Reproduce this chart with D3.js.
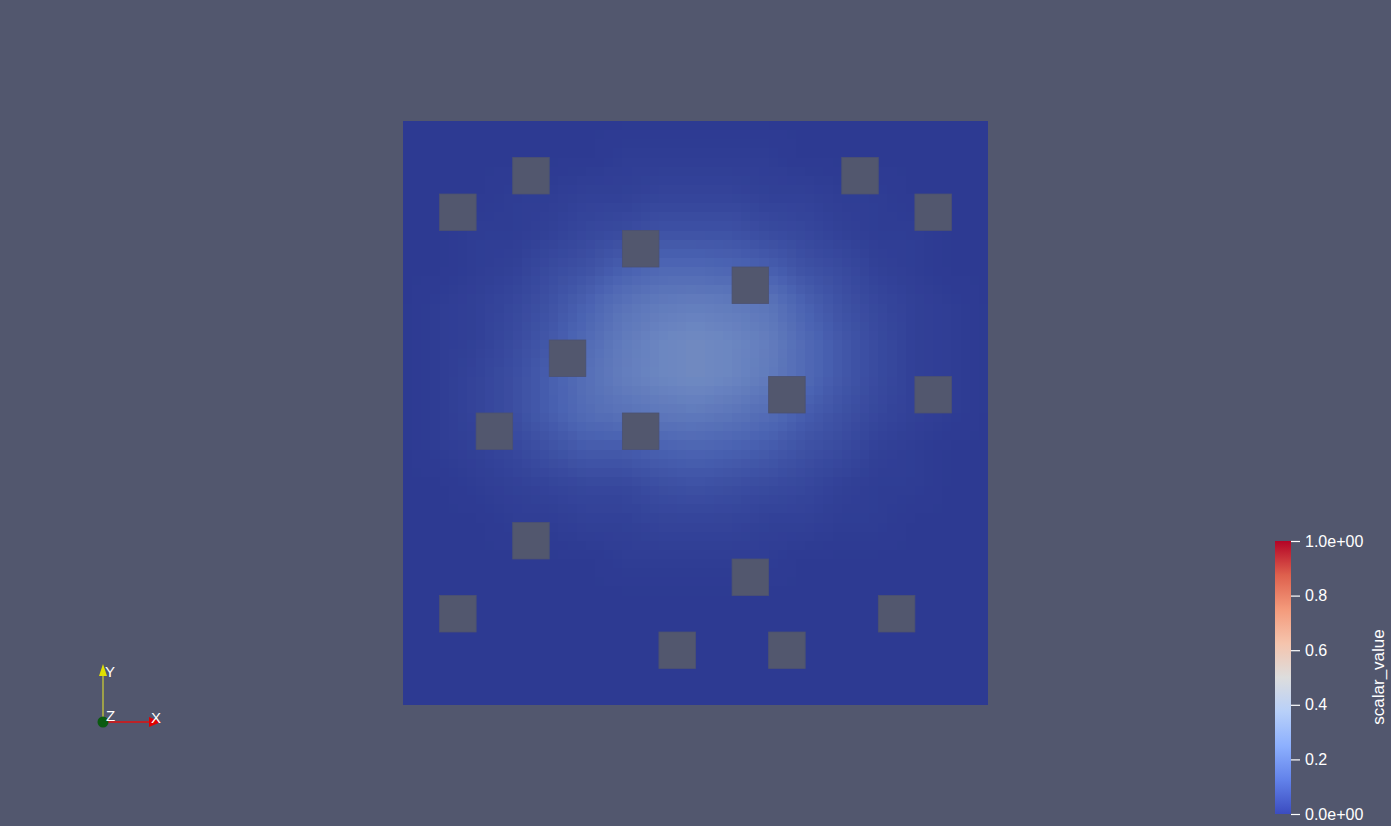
<!DOCTYPE html>
<html><head><meta charset="utf-8">
<script src="https://cdn.jsdelivr.net/npm/d3@7"></script>
<style>html,body{margin:0;padding:0;background:#52576e;overflow:hidden}svg{display:block}</style>
</head><body><svg id="c" width="1391" height="826"></svg>
<script>
// ---- data ----
const gridUnits = 16;             // domain is 16 x 16 units, nodes 0..16
const subdivisions = 4;           // render cells per unit
// scalar_value at the 17 x 17 nodes (row 0 = top)
const row00 = [0,0,0,0,0,0,0,0,0,0,0,0,0,0,0,0,0];
const row01 = [0,0,0,0,0,0,0.01,0.01,0.01,0.01,0.01,0,0,0,0,0,0];
const row02 = [0,0,0,0.01,0.01,0.02,0.02,0.03,0.03,0.03,0.02,0.02,0.01,0.01,0,0,0];
const row03 = [0,0,0.01,0.01,0.02,0.04,0.05,0.07,0.07,0.07,0.05,0.04,0.02,0.01,0.01,0,0];
const row04 = [0,0,0.01,0.02,0.05,0.07,0.11,0.14,0.14,0.13,0.11,0.07,0.05,0.02,0.01,0,0];
const row05 = [0,0.01,0.02,0.04,0.07,0.12,0.18,0.21,0.22,0.21,0.19,0.12,0.07,0.04,0.02,0.01,0];
const row06 = [0,0.01,0.02,0.05,0.09,0.15,0.21,0.25,0.27,0.25,0.22,0.15,0.09,0.05,0.02,0.01,0];
const row07 = [0,0.01,0.03,0.06,0.11,0.17,0.22,0.25,0.27,0.25,0.21,0.15,0.09,0.05,0.02,0.01,0];
const row08 = [0,0.01,0.03,0.06,0.11,0.16,0.18,0.20,0.21,0.19,0.16,0.11,0.07,0.04,0.02,0.01,0];
const row09 = [0,0.01,0.02,0.04,0.07,0.10,0.10,0.12,0.13,0.12,0.10,0.07,0.05,0.02,0.01,0,0];
const row10 = [0,0,0.01,0.02,0.03,0.04,0.04,0.06,0.07,0.06,0.05,0.04,0.02,0.01,0.01,0,0];
const row11 = [0,0,0,0.01,0.01,0.02,0.02,0.03,0.03,0.03,0.02,0.02,0.01,0.01,0,0,0];
const row12 = [0,0,0,0,0,0,0.01,0.01,0.01,0.01,0.01,0,0,0,0,0,0];
const row13 = [0,0,0,0,0,0,0,0,0,0,0,0,0,0,0,0,0];
const row14 = [0,0,0,0,0,0,0,0,0,0,0,0,0,0,0,0,0];
const row15 = [0,0,0,0,0,0,0,0,0,0,0,0,0,0,0,0,0];
const row16 = [0,0,0,0,0,0,0,0,0,0,0,0,0,0,0,0,0];
const nodeValues = [row00,row01,row02,row03,row04,row05,row06,row07,row08,row09,row10,row11,row12,row13,row14,row15,row16];
// square holes (column, row of top-left unit), 1 unit wide
const holeCols = [3,12,1,14,6,9,4,10,14,2,6,3,9,1,13,7,10];
const holeRows = [1,1,2,2,3,4,6,7,7,8,8,11,12,13,13,14,14];
// Cool to Warm colour map
const cmapStops = [0,0.125,0.25,0.375,0.5,0.625,0.75,0.875,1];
const cmapColors = ["#3b4cc0","#6282ea","#8db0fe","#b8d0f9","#dddddd","#f5c4ad","#f49a7b","#de604d","#b40426"];
const colorbarTicks = [0,0.2,0.4,0.6,0.8,1];
const colorbarLabels = ["0.0e+00","0.2","0.4","0.6","0.8","1.0e+00"];
const colorbarTitle = "scalar_value";
const axisNames = ["X","Y","Z"];

// ---- drawing ----
const svg = d3.select("#c");
const bg = "#52576e";
const shade = 0.76;

const x = d3.scaleLinear().domain([0, gridUnits]).range([403, 988]);
const y = d3.scaleLinear().domain([0, gridUnits]).range([121, 705]);
const cmap = d3.scaleLinear().domain(cmapStops).range(cmapColors).interpolate(d3.interpolateRgb).clamp(true);
function lit(v){ const c = d3.rgb(cmap(v)); return d3.rgb(c.r*shade, c.g*shade, c.b*shade).formatHex(); }

// rendering cells (Gouraud-like smoothing of node values)
function sample(u, v){
  const i = Math.min(Math.floor(u), gridUnits-1), j = Math.min(Math.floor(v), gridUnits-1);
  const fu = u - i, fv = v - j;
  const a = nodeValues[j][i], b = nodeValues[j][i+1], c = nodeValues[j+1][i], d = nodeValues[j+1][i+1];
  return (a*(1-fu)+b*fu)*(1-fv) + (c*(1-fu)+d*fu)*fv;
}
const step = 1/subdivisions;
const cells = [];
for (let j = 0; j < gridUnits*subdivisions; j++)
  for (let i = 0; i < gridUnits*subdivisions; i++)
    cells.push({u: i*step, v: j*step, val: sample((i+0.5)*step, (j+0.5)*step)});

svg.append("g").attr("shape-rendering","crispEdges")
  .selectAll("rect").data(cells).join("rect")
  .attr("x", d => x(d.u)).attr("y", d => y(d.v))
  .attr("width", d => x(d.u+step) - x(d.u) + 0.6)
  .attr("height", d => y(d.v+step) - y(d.v) + 0.6)
  .attr("fill", d => lit(d.val));
// clip overshoot at right/bottom edge
svg.append("rect").attr("x", x(gridUnits)).attr("y", y(0)-1).attr("width", 2).attr("height", y(gridUnits)-y(0)+3).attr("fill", bg);
svg.append("rect").attr("x", x(0)-1).attr("y", y(gridUnits)).attr("width", x(gridUnits)-x(0)+3).attr("height", 2).attr("fill", bg);

svg.append("g").selectAll("rect").data(holeCols.map((c,k)=>({c, r: holeRows[k]}))).join("rect")
  .attr("x", d => x(d.c)).attr("y", d => y(d.r))
  .attr("width", d => x(d.c+1)-x(d.c)).attr("height", d => y(d.r+1)-y(d.r))
  .attr("fill", bg).attr("stroke", "#4c5270").attr("stroke-width", 0.8);

// colour bar
const defs = svg.append("defs");
const grad = defs.append("linearGradient").attr("id","cb").attr("x1",0).attr("y1",1).attr("x2",0).attr("y2",0);
grad.selectAll("stop").data(cmapStops).join("stop")
  .attr("offset", d => d).attr("stop-color", (d,k) => cmapColors[k]);
const cbY = d3.scaleLinear().domain([0,1]).range([814, 541]);
svg.append("rect").attr("x",1275).attr("y",cbY(1)).attr("width",16).attr("height",cbY(0)-cbY(1)).attr("fill","url(#cb)");
const cbAxis = svg.append("g").attr("transform","translate(1291,0)")
  .call(d3.axisRight(cbY).tickValues(colorbarTicks).tickSize(9).tickPadding(5).tickFormat((d,k)=>colorbarLabels[k]));
cbAxis.select(".domain").remove();
cbAxis.selectAll("line").attr("stroke","#ffffff").attr("stroke-width",1.2);
cbAxis.selectAll("text").attr("fill","#ffffff").attr("font-family","'Liberation Sans', Arial, sans-serif").attr("font-size",16);
svg.append("text").attr("transform","translate(1384,677) rotate(-90)")
  .attr("text-anchor","middle").attr("fill","#ffffff")
  .attr("font-family","'Liberation Sans', Arial, sans-serif").attr("font-size",17).text(colorbarTitle);

// orientation triad
const tri = svg.append("g").attr("font-family","'Liberation Sans', Arial, sans-serif").attr("font-size",15).attr("fill","#ffffff");
tri.append("line").attr("x1",103).attr("y1",722).attr("x2",103).attr("y2",672).attr("stroke","#d2d232").attr("stroke-width",1.2);
tri.append("polygon").attr("points","103,664 99,676 107,676").attr("fill","#e1e100");
tri.append("line").attr("x1",103).attr("y1",722).attr("x2",151).attr("y2",722).attr("stroke","#e01010").attr("stroke-width",1.4);
tri.append("polygon").attr("points","161,722 149,717 149,727").attr("fill","#e00000");
tri.append("circle").attr("cx",103).attr("cy",722).attr("r",5.5).attr("fill","#0a5a10");
tri.append("text").attr("x",151).attr("y",723).text(axisNames[0]);
tri.append("text").attr("x",105).attr("y",677).text(axisNames[1]);
tri.append("text").attr("x",106).attr("y",721).text(axisNames[2]);
</script></body></html>
